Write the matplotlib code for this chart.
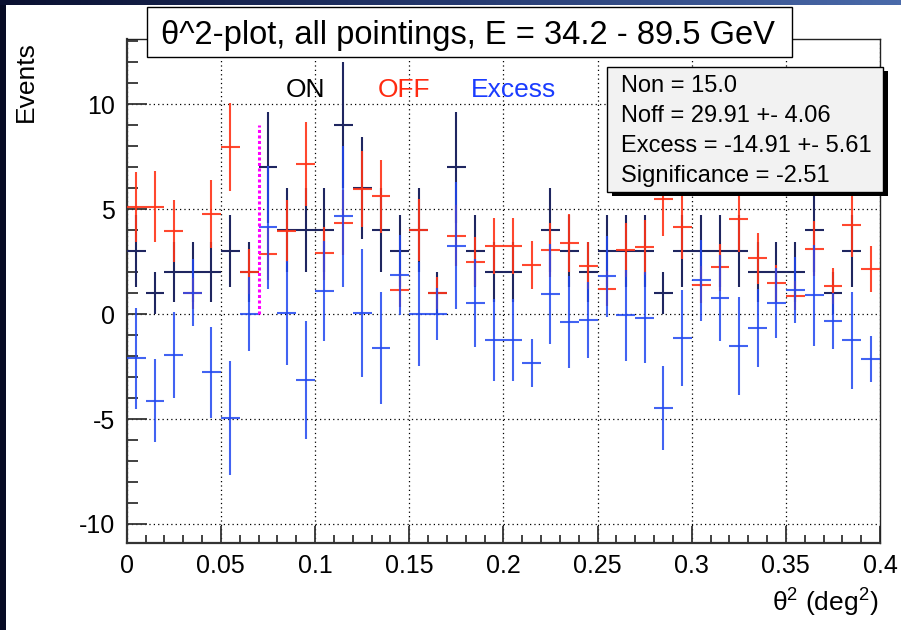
import numpy as np
import matplotlib
matplotlib.use("Agg")
import matplotlib.pyplot as plt
from matplotlib.patches import Rectangle
from matplotlib.ticker import MultipleLocator, FuncFormatter

plt.rcParams["font.family"] = ["Liberation Sans", "DejaVu Sans"]
plt.rcParams["axes.unicode_minus"] = False
plt.rcParams["mathtext.fontset"] = "custom"
plt.rcParams["mathtext.rm"] = "Liberation Sans"
plt.rcParams["mathtext.it"] = "Liberation Sans"

W, H = 901, 630

# theta^2 histogram, 40 bins of 0.01 deg^2
BIN_WIDTH = 0.01
N_BINS = 40
bin_edges = np.arange(N_BINS + 1) * BIN_WIDTH

on_counts = [3, 1, 2, 2, 2, 3, 2, 7, 4, 4,
             4, 9, 6, 4, 3, 4, 1, 7, 3, 2,
             2, 0, 4, 3, 2, 3, 3, 3, 1, 3,
             3, 3, 3, 2, 2, 2, 4, 1, 3, 0]

off_counts = [5.10, 5.12, 3.94, 0.98, 4.78, 7.97, 2.02, 2.86, 3.96, 7.15,
              2.90, 4.35, 5.97, 5.60, 1.15, 4.00, 1.00, 3.74, 2.49, 3.24,
              3.24, 2.33, 3.05, 3.38, 2.30, 1.21, 3.05, 3.17, 5.46, 4.13,
              1.40, 2.22, 4.51, 2.65, 1.46, 0.87, 3.11, 1.33, 4.25, 2.16]

excess = [-2.10, -4.12, -1.94, 1.02, -2.78, -4.97, -0.02, 4.14, 0.04, -3.15,
          1.10, 4.65, 0.03, -1.60, 1.85, 0.00, 0.00, 3.26, 0.51, -1.24,
          -1.24, -2.33, 0.95, -0.38, -0.30, 1.79, -0.05, -0.17, -4.46, -1.13,
          1.60, 0.78, -1.51, -0.65, 0.54, 1.13, 0.89, -0.33, -1.25, -2.16]

# off normalisation (off counts are scaled raw counts)
OFF_NORM = 0.551
THETA2_CUT = 0.07
CUT_LINE_TOP = 9.0

stats_lines = ["Non = 15.0",
               "Noff = 29.91 +- 4.06",
               "Excess = -14.91 +- 5.61",
               "Significance = -2.51"]

C_ON = "#1f2660"
C_OFF = "#ff3418"
C_EXC = "#2148f0"


def px(x, y):
    """pixel position (from top-left) -> figure fraction"""
    return x / W, 1 - y / H


fig = plt.figure(figsize=(W / 100, H / 100), dpi=100)
fig.patch.set_facecolor("white")

ax = fig.add_axes([126.7 / W, (H - 543.3) / H, (880 - 126.7) / W, 504.3 / H])

centers = 0.5 * (bin_edges[:-1] + bin_edges[1:])
on = np.array(on_counts, dtype=float)
off = np.array(off_counts)
exc = np.array(excess)
err_on = np.sqrt(on)
err_off = np.sqrt(OFF_NORM * off)
err_exc = np.sqrt(err_on ** 2 + err_off ** 2)

filled = on > 0
ax.errorbar(centers[filled], on[filled], xerr=BIN_WIDTH / 2, yerr=err_on[filled],
            fmt="none", ecolor=C_ON, elinewidth=1.5, capsize=0, zorder=3)
ax.errorbar(centers, off, xerr=BIN_WIDTH / 2, yerr=err_off,
            fmt="none", ecolor=C_OFF, elinewidth=1.5, capsize=0, alpha=0.9, zorder=4)
ax.errorbar(centers, exc, xerr=BIN_WIDTH / 2, yerr=err_exc,
            fmt="none", ecolor=C_EXC, elinewidth=1.5, capsize=0, alpha=0.85, zorder=5)

# signal region cut
ax.plot([THETA2_CUT, THETA2_CUT], [0, CUT_LINE_TOP], color="#ff00ff",
        lw=2.2, ls=(0, (1, 0.8)), zorder=6)

ax.set_xlim(0, 0.4)
ax.set_ylim(-10.92, 13.1)

ax.xaxis.set_major_locator(MultipleLocator(0.05))
ax.xaxis.set_minor_locator(MultipleLocator(0.01))
ax.yaxis.set_major_locator(MultipleLocator(5))
ax.yaxis.set_minor_locator(MultipleLocator(1))
ax.xaxis.set_major_formatter(FuncFormatter(lambda v, p: "%g" % round(v, 3)))
ax.yaxis.set_major_formatter(FuncFormatter(lambda v, p: "%d" % round(v)))

ax.tick_params(which="both", direction="in", top=False, right=False,
               colors="#333333", labelcolor="black", labelsize=18, width=1.3)
ax.tick_params(axis="x", which="major", length=12.2, pad=8)
ax.tick_params(axis="x", which="minor", length=5.8)
ax.tick_params(axis="y", which="major", length=14.4, pad=8.4)
ax.tick_params(axis="y", which="minor", length=7.9)

ax.grid(which="major", color="black", ls=(0, (1, 2.5)), lw=0.9)
ax.set_axisbelow(True)

for side in ("left", "bottom"):
    ax.spines[side].set_linewidth(1.6)
    ax.spines[side].set_color("#333333")
for side in ("top", "right"):
    ax.spines[side].set_linewidth(1.0)
    ax.spines[side].set_color("#222222")

# legend-like labels
fig.text(*px(285.7, 96.7), "ON", color="black", fontsize=19, va="baseline")
fig.text(*px(378, 96.7), "OFF", color="#ff2a10", fontsize=19, va="baseline")
fig.text(*px(471, 96.7), "Excess", color="#1a3cff", fontsize=19, va="baseline")

# title box
x0, y0 = px(146.7, 57.3)
x1, y1 = px(791.7, 7.3)
fig.patches.append(Rectangle((x0, y0), x1 - x0, y1 - y0, transform=fig.transFigure,
                             facecolor="white", edgecolor="black", lw=1.0, zorder=10))
fig.text(*px(468, 44), "\u03b8^2-plot, all pointings, E = 34.2 - 89.5 GeV",
         fontsize=23.5, ha="center", va="baseline", zorder=11)

# stats box with shadow
sx0, sy0 = px(606.7, 191.7)
sx1, sy1 = px(883.3, 66.7)
dx, dy = 5 / W, 4 / H
fig.patches.append(Rectangle((sx0 + dx, sy0 - dy), sx1 - sx0, sy1 - sy0,
                             transform=fig.transFigure, facecolor="black",
                             edgecolor="black", lw=0, zorder=10))
fig.patches.append(Rectangle((sx0, sy0), sx1 - sx0, sy1 - sy0, transform=fig.transFigure,
                             facecolor="#f2f2f2", edgecolor="black", lw=1.0, zorder=11))
for i, line in enumerate(stats_lines):
    fig.text(*px(620.7, 91.7 + 30 * i), line, fontsize=17, va="baseline", zorder=12)

# axis titles
fig.text(*px(26, 41), "Events", rotation=90, fontsize=19, ha="center", va="top")
fig.text(*px(878, 612), r"$\mathrm{\theta}^{2}$ (deg$^{2}$)", fontsize=19,
         ha="right", va="baseline")

# dark frame strips along the left and top edges
fig.patches.append(Rectangle((0, 0), 6 / W, 1, transform=fig.transFigure,
                             facecolor="#060b24", edgecolor="none", zorder=20))
band = fig.add_axes([0, 1 - 5 / H, 1, 5 / H], zorder=21)
band.imshow(np.linspace(0, 1, 256)[None, :], aspect="auto",
            cmap=matplotlib.colors.LinearSegmentedColormap.from_list(
                "band", ["#0a1030", "#24386e", "#4a6aaa"]))
band.axis("off")

fig.savefig("out.png", dpi=100)
